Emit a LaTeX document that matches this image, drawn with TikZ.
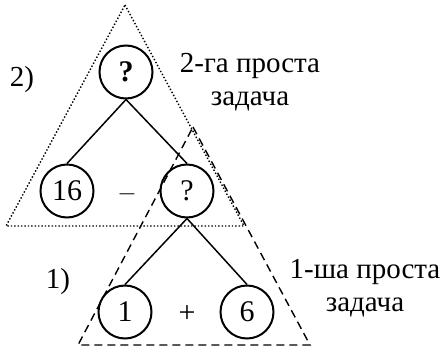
\documentclass[tikz,border=0pt]{standalone}
\usepackage{fontspec}
\setmainfont{Liberation Serif}
\usepackage{tikz}
\usetikzlibrary{positioning}
\tikzset{
  num/.style={circle,draw,line width=2pt,minimum size=53pt,inner sep=0pt,
              font=\fontsize{30}{34}\selectfont},
  op/.style={font=\fontsize{30}{34}\selectfont},
  lbl/.style={font=\fontsize{29}{33}\selectfont,align=center},
  link/.style={line width=1.5pt},
}

\begin{document}
\begin{tikzpicture}[x=1pt,y=-1pt]
\useasboundingbox (0,0) rectangle (441,351);
% outer triangles of the two simple tasks
\draw[dotted,line width=1.4pt] (125,5) -- (244,226) -- (6,226) -- cycle;
\draw[dash pattern=on 8pt off 5pt,line width=1.4pt] (193,127) -- (310,345) -- (78,345) -- cycle;
% tree
\node[num] (top) at (126,72) {\textbf{?}};
\node[num] (sixteen) at (67,191) {16};
\node[num] (mid) at (187,191) {?};
\node[num] (one) at (125,312) {1};
\node[num] (six) at (247,312) {6};
\node[op] (minus) at (127,194) {$-$};
\node[op] (plus) at (187,314) {+};
\draw[link] (top.south) -- (sixteen.north);
\draw[link] (top.south) -- (mid.north);
\draw[link] (mid.south) -- (one.north);
\draw[link] (mid.south) -- (six.north);
% labels
\node[lbl] (nr2) at (22,80) {2)};
\node[lbl] (task2) at (250,82) {2-га проста\\задача};
\node[lbl] (nr1) at (58,282) {1)};
\node[lbl] (task1) at (365,288) {1-ша проста\\задача};
\end{tikzpicture}
\end{document}
